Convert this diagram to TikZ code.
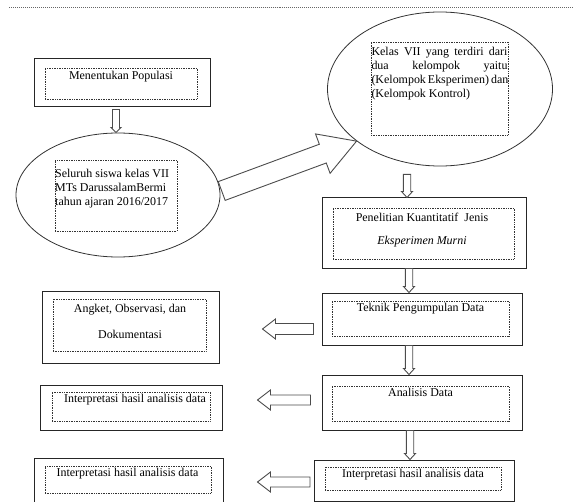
\documentclass[tikz,border=0pt]{standalone}
\usepackage{fontspec}
\setmainfont{Liberation Serif}
\usepackage{tikz}
\usetikzlibrary{calc,shapes.geometric}

% hollow block arrow: from, to, half shaft, half head, head length
\newcommand\blockarrow[5]{%
  \coordinate (ba-base) at ($(#2)!#5!(#1)$);
  \draw[blockline] ($(#1)!#3!90:(#2)$) -- ($(ba-base)!#3!90:(#2)$) -- ($(ba-base)!#4!90:(#2)$)
    -- (#2) -- ($(ba-base)!#4!-90:(#2)$) -- ($(ba-base)!#3!-90:(#2)$) -- ($(#1)!#3!-90:(#2)$) -- cycle;}
% one stretched (justified) line
\newcommand\jline[1]{\makebox[136bp][s]{#1}}

\begin{document}
\begin{tikzpicture}[
    x=1bp, y=-1bp,
    font=\fontsize{12}{14}\selectfont,
    outbox/.style   ={draw=black!85, line width=1bp, rectangle, inner sep=0pt},
    dotbox/.style   ={draw=black!80, densely dotted, line width=0.7bp, rectangle, inner sep=0pt},
    oval/.style     ={draw=black!80, line width=0.8bp, ellipse, inner sep=0pt},
    txt/.style      ={inner sep=0pt},
    blockline/.style={draw=black!70, line width=0.9bp, fill=white, line join=miter},
  ]
  \useasboundingbox (0,0) rectangle (573,502);

  % ---- page rule on top ----
  \draw[black!60, densely dotted, line width=1bp] (9,7.5) -- (573,7.5);

  % ---- right column, top to bottom ----
  \node[outbox, minimum width=175bp, minimum height=48bp] (pop) at (122.5,83) {};
  \node[dotbox, minimum width=152bp, minimum height=31bp] (pop-in) at (121,83.5) {};
  \node[txt] (pop-t) at (121,77) {Menentukan Populasi};

  \node[oval, minimum width=204bp, minimum height=124bp] (ell1) at (118,195) {};
  \node[dotbox, minimum width=122bp, minimum height=71bp] (ell1-in) at (116,195.5) {};
  \node[txt, align=left, anchor=west] (ell1-t) at (55,189) {Seluruh siswa kelas VII\\MTs DarussalamBermi\\tahun ajaran 2016/2017};

  \node[oval, minimum width=225bp, minimum height=154bp] (ell2) at (440,89) {};
  \node[dotbox, minimum width=137bp, minimum height=93bp] (ell2-in) at (439.5,88.5) {};
  \node[txt, align=left] (ell2-t) at (439.5,74) {\jline{Kelas VII yang terdiri dari}\\\jline{dua kelompok yaitu}\\\jline{(Kelompok Eksperimen) dan}\\(Kelompok Kontrol)\hspace*{\fill}};

  \node[outbox, minimum width=204bp, minimum height=70bp] (pen) at (424,233) {};
  \node[dotbox, minimum width=181bp, minimum height=51bp] (pen-in) at (423.5,233.5) {};
  \node[txt, align=center, font=\fontsize{12}{23}\selectfont] (pen-t) at (422,230.5) {Penelitian Kuantitatif\ \ Jenis\\\textit{Eksperimen Murni}};

  \node[outbox, minimum width=200bp, minimum height=52bp] (tek) at (422,319) {};
  \node[dotbox, minimum width=177bp, minimum height=35bp] (tek-in) at (420.5,318.5) {};
  \node[txt] (tek-t) at (420.5,309) {Teknik Pengumpulan Data};

  \node[outbox, minimum width=200bp, minimum height=55bp] (ana) at (422,402.5) {};
  \node[dotbox, minimum width=177bp, minimum height=35bp] (ana-in) at (420.5,403.5) {};
  \node[txt] (ana-t) at (420.5,392) {Analisis Data};

  \node[outbox, minimum width=200bp, minimum height=41bp] (int) at (414,480.5) {};
  \node[dotbox, minimum width=176bp, minimum height=23bp] (int-in) at (413,478.5) {};
  \node[txt] (int-t) at (413,475) {Interpretasi hasil analisis data};

  % ---- left column ----
  \node[outbox, minimum width=176bp, minimum height=72bp] (ang) at (131,327) {};
  \node[dotbox, minimum width=153bp, minimum height=52bp] (ang-in) at (129.5,325) {};
  \node[txt, align=center, font=\fontsize{12}{26}\selectfont] (ang-t) at (130,321) {Angket, Observasi, dan\\Dokumentasi};

  \node[outbox, minimum width=181bp, minimum height=45bp] (intA) at (131.5,407.5) {};
  \node[dotbox, minimum width=158bp, minimum height=29bp] (intA-in) at (131,406.5) {};
  \node[txt] (intA-t) at (135,400) {Interpretasi hasil analisis data};

  \node[outbox, minimum width=188bp, minimum height=44bp] (intB) at (129,480) {};
  \node[dotbox, minimum width=166bp, minimum height=27bp] (intB-in) at (128,479.5) {};
  \node[txt] (intB-t) at (127.5,474) {Interpretasi hasil analisis data};

  % ---- arrow end points ----
  \coordinate (a1s) at ($(pop.south)+(-6.5,2)$);   \coordinate (a1e) at (a1s |- ell1.north);
  \coordinate (a2s) at ($(ell2.south)+(-33,8)$);   \coordinate (a2e) at (a2s |- pen.north);
  \coordinate (a3s) at ($(pen.south)+(-15,0)$);    \coordinate (a3e) at (a3s |- tek.north);
  \coordinate (a4s) at ($(tek.south)+(-13,0)$);    \coordinate (a4e) at (a4s |- ana.north);
  \coordinate (a5s) at ($(ana.south)+(-12,0)$);    \coordinate (a5e) at (a5s |- int.north);
  \coordinate (b1s) at ($(tek.west)+(-8,10)$);     \coordinate (b1e) at ($(b1s -| ang.east)+(43,0)$);
  \coordinate (b2s) at ($(ana.west)+(-11,-2.5)$);  \coordinate (b2e) at ($(b2s -| intA.east)+(35,0)$);
  \coordinate (b3s) at ($(int.west)+(-3.5,1.5)$);  \coordinate (b3e) at ($(b3s -| intB.east)+(34,0)$);
  \coordinate (ds)  at ($(ell1.east)+(1.3,-4)$);

  % ---- block arrows ----
  \blockarrow{a1s}{a1e}{3.5bp}{5bp}{5bp}
  \blockarrow{a2s}{a2e}{3.7bp}{5.5bp}{6bp}
  \blockarrow{a3s}{a3e}{3.7bp}{5.5bp}{6bp}
  \blockarrow{a4s}{a4e}{3.7bp}{5.5bp}{6bp}
  \blockarrow{a5s}{a5e}{3.7bp}{5.5bp}{6bp}
  \blockarrow{b1s}{b1e}{5.5bp}{10bp}{13bp}
  \blockarrow{b2s}{b2e}{5bp}{10bp}{13bp}
  \blockarrow{b3s}{b3e}{5bp}{10bp}{13bp}
  \blockarrow{ds}{ell2.212}{10bp}{21bp}{36bp}
\end{tikzpicture}
\end{document}
